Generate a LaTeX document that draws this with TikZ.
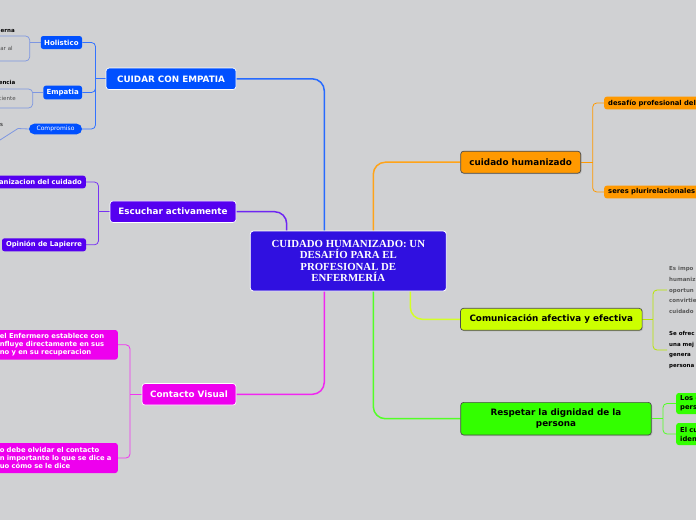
\documentclass[tikz,border=0pt]{standalone}
\usepackage{fontspec}
\setmainfont{DejaVu Sans}
\newfontfamily\headserif{Liberation Serif}
\usetikzlibrary{shadows}

\definecolor{bgc}{RGB}{208,209,211}
\definecolor{rootc}{RGB}{48,16,224}
\definecolor{bluec}{RGB}{0,80,255}
\definecolor{violc}{RGB}{85,0,240}
\definecolor{magc}{RGB}{238,0,238}
\definecolor{orgc}{RGB}{255,153,0}
\definecolor{yelc}{RGB}{204,255,0}
\definecolor{grnc}{RGB}{51,255,0}
\definecolor{detc}{RGB}{125,150,225}

\pgfdeclarelayer{background}
\pgfsetlayers{background,main}

\begin{document}
\begin{tikzpicture}[x=1pt,y=-1pt,
  root/.style={draw=white,line width=0.8pt,rounded corners=3pt,fill=rootc,text=white,align=center,inner sep=0pt,minimum width=196pt,minimum height=60pt,font=\headserif\bfseries\fontsize{10.8}{11.2}\selectfont},
  topl/.style={draw=white,line width=0.7pt,rounded corners=3pt,text=white,inner sep=0pt,minimum height=21.5pt,font=\bfseries\fontsize{8.8}{10.5}\selectfont},
  topr/.style={draw=black!70,line width=0.7pt,rounded corners=3pt,text=black,inner sep=0pt,minimum height=22pt,align=center,font=\bfseries\fontsize{8.8}{10.8}\selectfont,drop shadow={shadow xshift=1pt,shadow yshift=-1pt,opacity=0.3}},
  sub/.style={rounded corners=2.5pt,inner sep=0pt,font=\bfseries\fontsize{6.8}{8.3}\selectfont},
  detbox/.style={draw=detc,line width=0.7pt,rounded corners=4pt,inner ysep=0pt,inner xsep=17pt,text width=30pt,align=right,text=black!70,font=\fontsize{5.5}{6.5}\selectfont},
  dettitle/.style={inner sep=0pt,text=black,font=\bfseries\fontsize{5.5}{6.5}\selectfont},
  comtxt/.style={inner sep=2pt,align=left,font=\bfseries\fontsize{5.5}{10.6}\selectfont},
  br/.style={line width=1.5pt,rounded corners=12pt},
  ln/.style={line width=0.8pt,rounded corners=4pt}
]
% page
\begin{pgfonlayer}{background}
\fill[bgc] (0,0) rectangle (696,520);
\end{pgfonlayer}
\useasboundingbox (0,0) rectangle (696,520);

% central topic
\node[root] (root) at (348.3,261) {CUIDADO HUMANIZADO: UN\\DESAFÍO PARA EL\\PROFESIONAL DE\\ENFERMERÍA};

% left side
\node[topl,fill=bluec,minimum width=130pt] (cuidar) at (171,78.8) {CUIDAR CON EMPATIA};
\node[sub,fill=bluec,text=white,minimum width=41.3pt,minimum height=13pt,font=\bfseries\fontsize{7}{8}\selectfont] (holistico) at (61.4,42.5) {Holistico};
\node[sub,fill=bluec,text=white,minimum width=38.7pt,minimum height=13.6pt,font=\bfseries\fontsize{7}{8}\selectfont] (empatia) at (62.7,92.5) {Empatia};
\node[sub,fill=bluec,text=white,rounded corners=5.3pt,minimum width=53pt,minimum height=10.6pt,font=\fontsize{6}{7}\selectfont] (compromiso) at (55.5,129) {Compromiso};

\node[detbox,anchor=east,minimum height=25pt] (holidet) at (30,48.5) {ar al};
\node[dettitle,anchor=east] (holititle) at (15,30.5) {erna};
\node[detbox,anchor=east,minimum height=19pt] (empdet) at (33,98.5) {ciente};
\node[dettitle,anchor=east] (emptitle) at (15.5,82.5) {encia};
\node[dettitle,anchor=east,font=\fontsize{5.5}{6.5}\selectfont] (comptxt) at (3.2,124.5) {s};
\coordinate (compbend) at (18,128.5);
\coordinate (compend) at (0,140);

\node[topl,fill=violc,minimum width=126pt] (escuchar) at (173,211.7) {Escuchar activamente};
\node[sub,fill=violc,text=white,anchor=east,text width=92pt,align=right,inner xsep=4pt,minimum height=12.6pt] (orgcuid) at (86,182) {anizacion del cuidado};
\node[sub,fill=violc,text=white,minimum width=84pt,minimum height=13pt] (lapierre) at (44,244.8) {Opinión de Lapierre};

\node[topl,fill=magc,minimum width=94pt] (contacto) at (189,394.3) {Contacto Visual};
\node[sub,fill=magc,text=white,anchor=east,text width=114pt,align=left,inner xsep=4pt,minimum height=29.5pt] (relacion) at (118,344.8) {el Enfermero establece con\\nfluye directamente en sus\\no y en su recuperacion};
\node[sub,fill=magc,text=white,anchor=east,text width=114pt,align=left,inner xsep=4pt,minimum height=30pt] (olvidar) at (118,458) {o debe olvidar el contacto\\n importante lo que se dice a\\uo cómo se le dice};

% right side
\node[topr,fill=orgc,minimum width=120pt] (cuidado) at (520.7,162.2) {cuidado humanizado};
\node[sub,fill=orgc,anchor=west,text width=120pt,align=left,inner xsep=4pt,minimum height=12.6pt] (desafio) at (604,103) {desafío profesional del};
\node[sub,fill=orgc,anchor=west,text width=120pt,align=left,inner xsep=4pt,minimum height=12.6pt] (seres) at (604,192) {seres plurirelacionales};

\node[topr,fill=yelc,minimum width=181.6pt] (comun) at (551.3,319.3) {Comunicación afectiva y efectiva};
\node[comtxt,anchor=west,text=black!65] (comt1) at (667,290) {Es impo\\humaniz\\oportun\\convirtie\\cuidado};
\node[comtxt,anchor=west,text=black] (comt2) at (667,350) {Se ofrec\\una mej\\genera\\persona};

\node[topr,fill=grnc,minimum width=190.6pt,minimum height=32.7pt] (respetar) at (556,418.7) {Respetar la dignidad de la\\persona};
\node[sub,fill=grnc,anchor=west,text width=40pt,align=left,inner xsep=4pt,minimum height=21pt,font=\bfseries\fontsize{6.8}{9}\selectfont] (loscuid) at (676,403.5) {Los c\\pers};
\node[sub,fill=grnc,anchor=west,text width=40pt,align=left,inner xsep=4pt,minimum height=22pt,font=\bfseries\fontsize{6.8}{9}\selectfont] (elcuid) at (676,434) {El cu\\iden};

% junctions
\coordinate (cuidarj) at (95.5,78.8);
\coordinate (escucharj) at (98.5,211.7);
\coordinate (contactoj) at (130,394.3);
\coordinate (cuidadoj) at (592.7,162.2);
\coordinate (comunj) at (653,319.3);
\coordinate (respetarj) at (663,418.7);

\begin{pgfonlayer}{background}
% main branches
\draw[br,draw=bluec!85!white] ([xshift=-24pt]root.north) |- (cuidar.east);
\draw[br,draw=violc!85!white] ([xshift=-61.6pt]root.north) |- (escuchar.east);
\draw[br,draw=orgc!90!white] ([xshift=25pt]root.north) |- (cuidado.west);
\draw[br,draw=magc!85!white] ([xshift=-24pt]root.south) |- (contacto.east);
\draw[br,draw=grnc!85!white] ([xshift=25pt]root.south) |- (respetar.west);
\draw[br,draw=yelc!85!white] ([xshift=62pt]root.south) |- (comun.west);

% sub branches
\draw[ln,draw=bluec!80!white] (cuidar.west) -- (cuidarj);
\draw[ln,draw=bluec!80!white] (cuidarj) |- (holistico.east);
\draw[ln,draw=bluec!80!white] (cuidarj) |- (empatia.east);
\draw[ln,draw=bluec!80!white] (cuidarj) |- (compromiso.east);
\draw[ln,draw=detc] (holistico.west) -- (holidet.east |- holistico.west);
\draw[ln,draw=detc] (empatia.west) -- (empdet.east |- empatia.west);
\draw[ln,draw=detc,rounded corners=0pt] (compromiso.west) -- (compbend) -- (compend);

\draw[ln,draw=violc!80!white] (escuchar.west) -- (escucharj);
\draw[ln,draw=violc!80!white] (escucharj) |- (orgcuid.east);
\draw[ln,draw=violc!80!white] (escucharj) |- (lapierre.east);

\draw[ln,draw=magc!80!white] (contacto.west) -- (contactoj);
\draw[ln,draw=magc!80!white] (contactoj) |- (relacion.east);
\draw[ln,draw=magc!80!white] (contactoj) |- (olvidar.east);

\draw[ln,draw=orgc] (cuidado.east) -- (cuidadoj);
\draw[ln,draw=orgc] (cuidadoj) |- (desafio.west);
\draw[ln,draw=orgc] (cuidadoj) |- (seres.west);

\draw[ln,draw=yelc!90!black] (comun.east) -- (comunj);
\draw[ln,draw=yelc!90!black] (comunj) |- (comt1.west);
\draw[ln,draw=yelc!90!black] (comunj) |- (comt2.west);

\draw[ln,draw=grnc!85!white] (respetar.east) -- (respetarj);
\draw[ln,draw=grnc!85!white] (respetarj) |- (loscuid.west);
\draw[ln,draw=grnc!85!white] (respetarj) |- (elcuid.west);
\end{pgfonlayer}
\end{tikzpicture}
\end{document}
